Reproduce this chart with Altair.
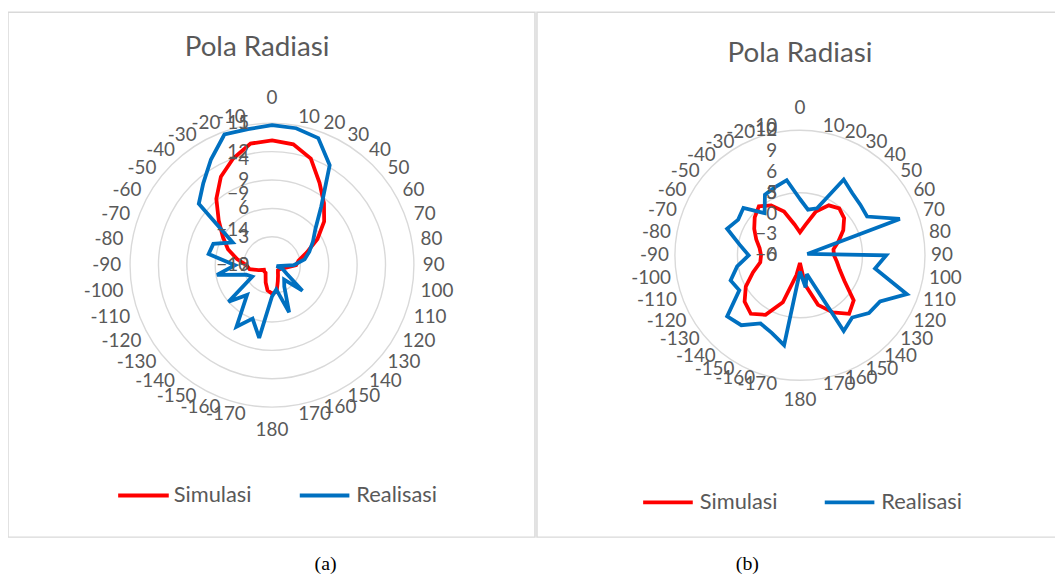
import altair as alt
import pandas as pd

# ---------------- data ----------------
CATEGORIES = ["0", "10", "20", "30", "40", "50", "60", "70", "80", "90", "100", "110",
              "120", "130", "140", "150", "160", "170", "180", "-170", "-160", "-150",
              "-140", "-130", "-120", "-110", "-100", "-90", "-80", "-70", "-60", "-50",
              "-40", "-30", "-20", "-10"]
SERIES = ["Simulasi", "Realisasi"]
COLORS = ["#FF0000", "#0070C0"]

# panel (a)
SIM_A = [-1.4, -1.7, -3.0, -5.6, -7.6, -9.4, -11.6, -13.8, -15.2, -15.6, -17.0, -17.6,
         -17.8, -17.9, -17.7, -17.3, -16.6, -15.2, -15.0, -15.4, -16.4, -17.2, -17.6, -17.6,
         -17.7, -17.0, -15.8, -15.4, -14.0, -12.4, -11.0, -9.2, -6.8, -4.6, -3.0, -1.6]
REAL_A = [14.8, 14.7, 14.3, 12.2, 8.1, 6.0, 5.0, 4.2, 3.5, 2.3, 0.5, 1.2,
          1.8, 4.2, 2.0, 2.6, 5.3, 2.6, 3.3, 7.8, 6.0, 7.5, 4.1, 6.0,
          2.4, 2.9, 5.9, 3.9, 6.8, 6.6, 4.8, 10.1, 11.3, 12.9, 14.7, 14.6]
A_PRIMARY_TICKS = [0, 3, 6, 9, 12, 15]        # Realisasi axis
A_SECONDARY_TICKS = [-19, -14, -9, -4, 1]     # Simulasi axis

# panel (b)
SIM_B = [-2.7, -1.6, 0.7, 2.3, 2.8, 2.3, 1.2, -0.1, -1.1, -1.1, -0.6, 0.1,
         1.4, 4.1, 5.0, 3.5, 1.6, -1.7, -4.9, -3.1, 1.2, 3.9, 5.0, 4.4,
         3.0, 1.2, -0.2, -0.4, -0.1, 0.7, 1.6, 2.5, 3.2, 2.3, 0.7, -1.5]
REAL_B = [4.5, 3.7, 4.0, 7.0, 6.5, 6.3, 6.2, 8.5, 0.6, 6.9, 6.1, 9.1,
          7.4, 7.2, 6.5, 7.0, 1.6, 2.6, 1.3, 7.3, 6.6, 6.3, 7.3, 7.6,
          5.6, 5.9, 5.1, 4.1, 4.9, 6.2, 5.7, 5.9, 4.4, 5.6, 5.8, 6.1]
B_PRIMARY_TICKS = [0, 5, 10]                  # Realisasi axis
B_SECONDARY_TICKS = [-6, -3, 0, 3, 6, 9, 12]  # Simulasi axis

TITLE = "Pola Radiasi"
CAPTIONS = ["(a)", "(b)"]

# ---------------- layout ----------------
W, H = 1055, 566
N = len(CATEGORIES)
STEP = 360.0 / N
GRAY = "#595959"
GRID = "#D9D9D9"
FONT = "Lato"
LAB_FS = 19

X = alt.X("x:Q", scale=alt.Scale(domain=[0, W], nice=False, zero=False), axis=None)
Y = alt.Y("y:Q", scale=alt.Scale(domain=[0, H], nice=False, zero=False, reverse=True), axis=None)

PANELS = [
    dict(cx=266, cy=257, R=143, pad=9, sim=SIM_A, real=REAL_A,
         prim=A_PRIMARY_TICKS, sec=A_SECONDARY_TICKS,
         title_xy=(251, 38), caption_xy=(320, 558),
         border=(0, 531, 2, 531),
         leg=dict(y=489, sim=(111, 162, 167), real=(294, 344, 351))),
    dict(cx=798, cy=247, R=126, pad=6, sim=SIM_B, real=REAL_B,
         prim=B_PRIMARY_TICKS, sec=B_SECONDARY_TICKS,
         title_xy=(798, 44), caption_xy=(745, 558),
         border=(533, W + 30, 2, 531),
         leg=dict(y=496, sim=(640, 690, 697), real=(823, 873, 880))),
]


def radial(df, P, lo, hi, field):
    """Convert a value on a radial axis [lo, hi] to x, y of the polar panel."""
    cx, cy, R = P["cx"], P["cy"], P["R"]
    return df.transform_calculate(
        th=f"datum.idx*{STEP}*PI/180",
        r=f"(datum.{field}-({lo}))/(({hi})-({lo}))*{R}",
    ).transform_calculate(
        x=f"{cx}+datum.r*sin(datum.th)",
        y=f"{cy}-datum.r*cos(datum.th)",
    )


def panel_layers(P):
    cx, cy, R, pad = P["cx"], P["cy"], P["R"], P["pad"]
    plo, phi = P["prim"][0], P["prim"][-1]
    slo, shi = P["sec"][0], P["sec"][-1]
    layers = []

    # border
    bx1, bx2, by1, by2 = P["border"]
    layers.append(alt.Chart(pd.DataFrame({"k": [0]})).mark_rect(
        fillOpacity=0, stroke=GRID, strokeWidth=1.5).encode(
        x=alt.value(bx1), x2=alt.value(bx2), y=alt.value(by1), y2=alt.value(by2)))

    # grid rings (primary axis major units)
    rings = pd.DataFrame({"v": P["prim"][1:]})
    layers.append(alt.Chart(rings).transform_calculate(
        r=f"(datum.v-({plo}))/(({phi})-({plo}))*{R}",
    ).transform_calculate(
        x=f"{cx}", y=f"{cy}", s="pow(2*datum.r,2)"
    ).mark_point(shape="circle", filled=False, color=GRID, strokeWidth=1.4, opacity=1).encode(
        x=X, y=Y, size=alt.Size("s:Q", scale=None)))

    # series
    sim = pd.DataFrame({"idx": range(N), "value": P["sim"], "cat": CATEGORIES})
    real = pd.DataFrame({"idx": range(N), "value": P["real"], "cat": CATEGORIES})
    for df, lo, hi, col in [(sim, slo, shi, COLORS[0]), (real, plo, phi, COLORS[1])]:
        layers.append(radial(alt.Chart(df), P, lo, hi, "value").mark_line(
            interpolate="linear-closed", color=col, strokeWidth=3.8,
            strokeJoin="miter", strokeMiterLimit=3).encode(
            x=X, y=Y, order="idx:Q"))

    # angular category labels
    labs = pd.DataFrame({"idx": range(N), "lab": CATEGORIES})
    base = alt.Chart(labs).transform_calculate(
        ang=f"datum.idx*{STEP}",
        th=f"datum.idx*{STEP}*PI/180",
    ).transform_calculate(
        x=f"{cx}+{R + pad}*sin(datum.th)",
        y=f"{cy}-{R + pad}*cos(datum.th)",
    )
    tfont = dict(font=FONT, fontSize=LAB_FS, color=GRAY)
    enc = dict(x=X, y=Y, text="lab:N")
    layers.append(base.transform_filter("datum.ang>0 && datum.ang<180").mark_text(
        align="left", baseline="middle", **tfont).encode(**enc))
    layers.append(base.transform_filter("datum.ang>180").mark_text(
        align="right", baseline="middle", **tfont).encode(**enc))
    layers.append(base.transform_filter("datum.ang==0").mark_text(
        align="center", baseline="bottom", dy=-6, **tfont).encode(**enc))
    layers.append(base.transform_filter("datum.ang==180").mark_text(
        align="center", baseline="top", dy=5, **tfont).encode(**enc))

    # radial axis labels (primary and secondary, both on the 0 direction)
    for ticks in (P["prim"], P["sec"]):
        lo, hi = ticks[0], ticks[-1]
        tdf = pd.DataFrame({"v": ticks})
        layers.append(alt.Chart(tdf).transform_calculate(
            r=f"(datum.v-({lo}))/(({hi})-({lo}))*{R}",
        ).transform_calculate(
            x=f"{cx - 23}", y=f"{cy}-datum.r",
        ).mark_text(align="right", baseline="middle", **tfont).encode(
            x=X, y=Y, text=alt.Text("v:Q", format="d")))

    # title
    tx, ty = P["title_xy"]
    layers.append(alt.Chart(pd.DataFrame({"k": [0]})).mark_text(
        font=FONT, fontSize=28, color=GRAY, align="center", baseline="middle").encode(
        x=alt.value(tx), y=alt.value(ty), text=alt.value(TITLE)))

    # legend
    L = P["leg"]
    for name, col, key in [(SERIES[0], COLORS[0], "sim"), (SERIES[1], COLORS[1], "real")]:
        x1, x2, xt = L[key]
        layers.append(alt.Chart(pd.DataFrame({"k": [0]})).mark_rule(
            color=col, strokeWidth=4).encode(
            x=alt.value(x1), x2=alt.value(x2), y=alt.value(L["y"])))
        layers.append(alt.Chart(pd.DataFrame({"k": [0]})).mark_text(
            font=FONT, fontSize=22, color=GRAY, align="left", baseline="middle").encode(
            x=alt.value(xt), y=alt.value(L["y"]), text=alt.value(name)))
    return layers


layers = []
for i, P in enumerate(PANELS):
    layers += panel_layers(P)
    cxp, cyp = P["caption_xy"]
    layers.append(alt.Chart(pd.DataFrame({"k": [0]})).mark_text(
        font="Liberation Serif", fontSize=20, color="#000000", align="center",
        baseline="middle").encode(x=alt.value(cxp), y=alt.value(cyp),
                                  text=alt.value(CAPTIONS[i])))

chart = alt.layer(*layers).properties(
    width=W, height=H, padding=0,
    autosize=alt.AutoSizeParams(type="none"),
    background="white",
).configure_view(stroke=None)

chart.save("out.html", embed_options={"renderer": "svg", "actions": False})
